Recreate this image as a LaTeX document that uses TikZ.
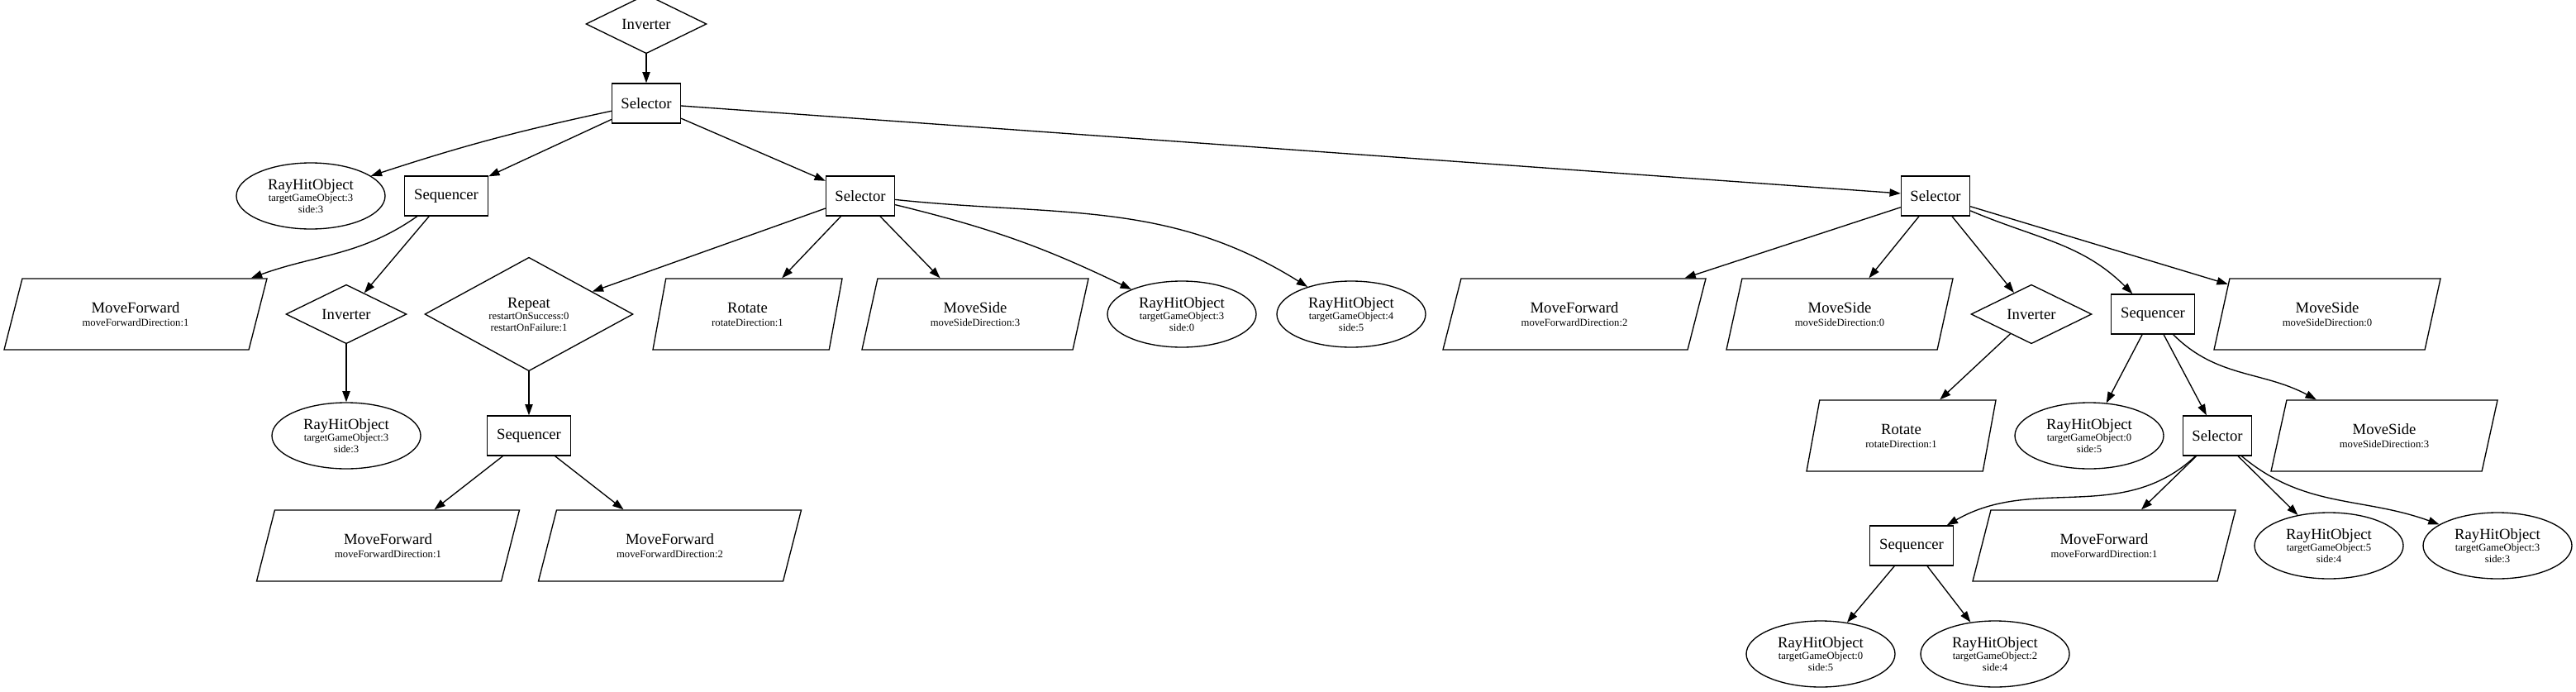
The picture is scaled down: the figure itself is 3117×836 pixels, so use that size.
\documentclass[tikz,border=0pt]{standalone}
\usepackage{fontspec}
\setmainfont{Liberation Serif}
\usepackage{tikz}
\usetikzlibrary{arrows.meta,shapes.geometric,calc}
\newcommand{\argfont}{\fontsize{9.5}{10}\selectfont}

\begin{document}
\begin{tikzpicture}[
  x=0.75pt, y=-0.75pt,
  every node/.style={font=\fontsize{14}{14}\selectfont, inner sep=0pt, line width=1pt},
  selbox/.style={draw, rectangle, minimum width=62.25pt, minimum height=36pt},
  seqbox/.style={draw, rectangle, minimum width=75.75pt, minimum height=36pt},
  deco/.style={draw, diamond, minimum width=109.5pt, minimum height=36pt, align=center},
  cond/.style={draw, ellipse, minimum width=135pt, minimum height=60pt, align=center},
  act/.style={draw, trapezium, trapezium stretches body, minimum height=64.5pt, align=center},
  mfact/.style={act, trapezium left angle=53, trapezium right angle=127, minimum width=238.5pt},
  msact/.style={act, trapezium left angle=57, trapezium right angle=123, minimum width=205.5pt},
  rotact/.style={act, trapezium left angle=61, trapezium right angle=119, minimum width=171.75pt},
  arr/.style={-{Triangle[length=10pt,width=7pt]}, line width=1pt}
]
\useasboundingbox (0,0) rectangle (3117,836);

\node[deco] (inv1) at (782,29) {Inverter};
\node[selbox] (sel1) at (782,125) {Selector};

\node[cond] (ray1) at (376,237) {RayHitObject\\[-3.5pt]{\argfont targetGameObject:3}\\[-3.5pt]{\argfont side:3}};
\node[seqbox] (seq1) at (540,237) {Sequencer};
\node[selbox] (sel2) at (1041,237) {Selector};
\node[selbox] (sel3) at (2342,237) {Selector};

\node[mfact] (mf1) at (164,380) {MoveForward\\[-2pt]{\argfont moveForwardDirection:1}};
\node[deco] (inv2) at (419,380) {Inverter};
\node[deco, minimum width=189pt, minimum height=84pt] (rep1) at (640,380) {Repeat\\[-3.5pt]{\argfont restartOnSuccess:0}\\[-3.5pt]{\argfont restartOnFailure:1}};
\node[rotact] (rot1) at (904.5,380) {Rotate\\[-2pt]{\argfont rotateDirection:1}};
\node[msact] (ms1) at (1180,380) {MoveSide\\[-2pt]{\argfont moveSideDirection:3}};
\node[cond] (ray2) at (1430,380) {RayHitObject\\[-3.5pt]{\argfont targetGameObject:3}\\[-3.5pt]{\argfont side:0}};
\node[cond] (ray3) at (1635,380) {RayHitObject\\[-3.5pt]{\argfont targetGameObject:4}\\[-3.5pt]{\argfont side:5}};
\node[mfact] (mf2) at (1905,380) {MoveForward\\[-2pt]{\argfont moveForwardDirection:2}};
\node[msact] (ms2) at (2226,380) {MoveSide\\[-2pt]{\argfont moveSideDirection:0}};
\node[deco] (inv3) at (2458,380) {Inverter};
\node[seqbox] (seq2) at (2605,380) {Sequencer};
\node[msact] (ms3) at (2816,380) {MoveSide\\[-2pt]{\argfont moveSideDirection:0}};

\node[cond] (ray4) at (419,527) {RayHitObject\\[-3.5pt]{\argfont targetGameObject:3}\\[-3.5pt]{\argfont side:3}};
\node[seqbox] (seq3) at (640,527) {Sequencer};
\node[rotact] (rot2) at (2300.5,527) {Rotate\\[-2pt]{\argfont rotateDirection:1}};
\node[cond] (ray5) at (2528,527) {RayHitObject\\[-3.5pt]{\argfont targetGameObject:0}\\[-3.5pt]{\argfont side:5}};
\node[selbox] (sel4) at (2683,527) {Selector};
\node[msact] (ms4) at (2885,527) {MoveSide\\[-2pt]{\argfont moveSideDirection:3}};

\node[mfact] (mf3) at (469.5,660) {MoveForward\\[-2pt]{\argfont moveForwardDirection:1}};
\node[mfact] (mf4) at (810.5,660) {MoveForward\\[-2pt]{\argfont moveForwardDirection:2}};
\node[seqbox] (seq4) at (2313,660) {Sequencer};
\node[mfact] (mf5) at (2546,660) {MoveForward\\[-2pt]{\argfont moveForwardDirection:1}};
\node[cond] (ray6) at (2818,660) {RayHitObject\\[-3.5pt]{\argfont targetGameObject:5}\\[-3.5pt]{\argfont side:4}};
\node[cond] (ray7) at (3022,660) {RayHitObject\\[-3.5pt]{\argfont targetGameObject:3}\\[-3.5pt]{\argfont side:3}};

\node[cond] (ray8) at (2203,791) {RayHitObject\\[-3.5pt]{\argfont targetGameObject:0}\\[-3.5pt]{\argfont side:5}};
\node[cond] (ray9) at (2414,791) {RayHitObject\\[-3.5pt]{\argfont targetGameObject:2}\\[-3.5pt]{\argfont side:4}};

\draw[arr] (inv1) -- (sel1);
\draw[arr] (sel1) to[bend right=3] (ray1);
\draw[arr] (sel1) -- (seq1);
\draw[arr] (sel1) -- (sel2);
\draw[arr] (sel1) -- (sel3);

\draw[arr] (seq1) to[out=215,in=20] ($(mf1.top right corner)+(-20,0)$);
\draw[arr] (seq1) -- (inv2);
\draw[arr] (inv2) -- (ray4);

\draw[arr] (sel2) -- (rep1);
\draw[arr] (sel2) -- (rot1);
\draw[arr] (sel2) -- (ms1);
\draw[arr] (sel2) to[bend left=6] (ray2);
\draw[arr] (sel2) to[out=-6,in=148] (ray3);

\draw[arr] (rep1) -- (seq3);
\draw[arr] (seq3) -- (mf3);
\draw[arr] (seq3) -- (mf4);

\draw[arr] (sel3) -- (mf2);
\draw[arr] (sel3) -- (ms2);
\draw[arr] (sel3) -- (inv3);
\draw[arr] (sel3) to[out=-23,in=135] (seq2);
\draw[arr] (sel3) -- (ms3);

\draw[arr] (inv3) -- (rot2);
\draw[arr] (seq2) -- (ray5);
\draw[arr] (seq2) -- (sel4);
\draw[arr] (seq2) to[out=-45,in=152] (ms4);

\draw[arr] (sel4) to[out=223,in=30] (seq4);
\draw[arr] (sel4) -- (mf5);
\draw[arr] (sel4) -- (ray6);
\draw[arr] (sel4) to[out=-40,in=160] (ray7);

\draw[arr] (seq4) -- (ray8);
\draw[arr] (seq4) -- (ray9);
\end{tikzpicture}
\end{document}
